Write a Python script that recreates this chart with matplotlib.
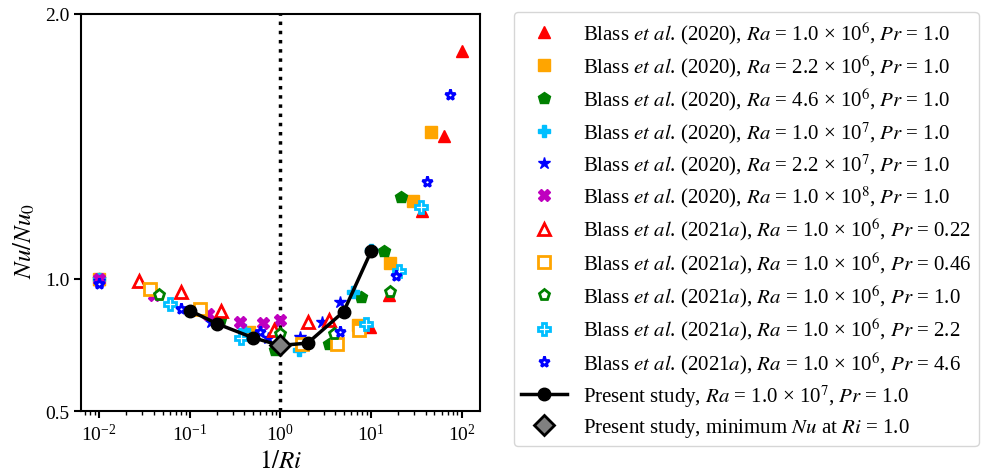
import matplotlib
matplotlib.use("Agg")
import matplotlib.pyplot as plt

plt.rcParams["font.family"] = ["Liberation Serif", "DejaVu Serif"]
plt.rcParams["mathtext.fontset"] = "stix"
plt.rcParams["font.size"] = 14

# Blass et al. (2020), Pr = 1.0 (filled markers)
x_ra1e6 = [0.01, 9.7, 16.0, 36.5, 63.5, 100.0]
y_ra1e6 = [1.0, 0.817, 0.94, 1.255, 1.54, 1.86]
x_ra22e6 = [0.01, 0.455, 7.27, 16.4, 29.1, 45.5]
y_ra22e6 = [1.0, 0.80, 0.824, 1.06, 1.295, 1.554]
x_ra46e6 = [0.01, 0.217, 0.87, 3.48, 7.8, 13.9, 21.7]
y_ra46e6 = [1.0, 0.843, 0.73, 0.755, 0.93, 1.103, 1.31]
x_ra1e7 = [0.01, 0.4, 1.6, 6.4, 10.0]
y_ra1e7 = [1.0, 0.805, 0.73, 0.95, 1.11]
x_ra22e7 = [0.01, 0.17, 0.727, 1.64, 2.9, 4.55]
y_ra22e7 = [0.99, 0.837, 0.776, 0.78, 0.836, 0.912]
x_ra1e8 = [0.01, 0.04, 0.16, 0.36, 0.64, 1.0]
y_ra1e8 = [1.0, 0.94, 0.866, 0.838, 0.834, 0.843]

# Blass et al. (2021a), Ra = 1e6 (open markers)
x_pr022 = [0.0275, 0.079, 0.223, 0.85, 2.0, 3.4]
y_pr022 = [0.99, 0.95, 0.877, 0.805, 0.836, 0.845]
x_pr046 = [0.036, 0.13, 1.74, 4.2, 7.3]
y_pr046 = [0.96, 0.887, 0.755, 0.755, 0.805]
x_pr1 = [0.046, 1.0, 3.9, 16.1]
y_pr1 = [0.94, 0.79, 0.79, 0.95]
x_pr22 = [0.061, 0.37, 8.9, 20.3, 35.3]
y_pr22 = [0.906, 0.775, 0.83, 1.03, 1.27]
x_pr46 = [0.01, 0.079, 0.6, 4.6, 18.7, 41.7, 73.8]
y_pr46 = [0.98, 0.887, 0.80, 0.80, 1.012, 1.365, 1.695]

# present study
x_present = [0.1, 0.2, 0.5, 1.0, 2.0, 5.0, 10.0]
y_present = [0.88, 0.83, 0.777, 0.748, 0.757, 0.876, 1.103]
x_min, y_min = 1.0, 0.748

fig = plt.figure(figsize=(9.94, 4.77), dpi=100)
ax = fig.add_axes([0.0815, 0.136, 0.4015, 0.8326])

ax.axvline(1.0, color="k", ls=":", lw=2.5, zorder=1)

ms = 9
filled = [
    (x_ra1e6, y_ra1e6, "^", "red", r"Blass $et\ al$. (2020), $Ra$ = 1.0 × 10$^6$, $Pr$ = 1.0"),
    (x_ra22e6, y_ra22e6, "s", "orange", r"Blass $et\ al$. (2020), $Ra$ = 2.2 × 10$^6$, $Pr$ = 1.0"),
    (x_ra46e6, y_ra46e6, "p", "green", r"Blass $et\ al$. (2020), $Ra$ = 4.6 × 10$^6$, $Pr$ = 1.0"),
    (x_ra1e7, y_ra1e7, "P", "deepskyblue", r"Blass $et\ al$. (2020), $Ra$ = 1.0 × 10$^7$, $Pr$ = 1.0"),
    (x_ra22e7, y_ra22e7, "*", "blue", r"Blass $et\ al$. (2020), $Ra$ = 2.2 × 10$^7$, $Pr$ = 1.0"),
    (x_ra1e8, y_ra1e8, "X", "m", r"Blass $et\ al$. (2020), $Ra$ = 1.0 × 10$^8$, $Pr$ = 1.0"),
]
for x, y, m, c, lab in filled:
    ax.plot(x, y, ls="none", marker=m, color=c, ms=ms, label=lab, zorder=2)

opened = [
    (x_pr022, y_pr022, "^", "red", r"Blass $et\ al$. (2021$a$), $Ra$ = 1.0 × 10$^6$, $Pr$ = 0.22"),
    (x_pr046, y_pr046, "s", "orange", r"Blass $et\ al$. (2021$a$), $Ra$ = 1.0 × 10$^6$, $Pr$ = 0.46"),
    (x_pr1, y_pr1, "p", "green", r"Blass $et\ al$. (2021$a$), $Ra$ = 1.0 × 10$^6$, $Pr$ = 1.0"),
    (x_pr22, y_pr22, "P", "deepskyblue", r"Blass $et\ al$. (2021$a$), $Ra$ = 1.0 × 10$^6$, $Pr$ = 2.2"),
    (x_pr46, y_pr46, "*", "blue", r"Blass $et\ al$. (2021$a$), $Ra$ = 1.0 × 10$^6$, $Pr$ = 4.6"),
]
for x, y, m, c, lab in opened:
    ax.plot(x, y, ls="none", marker=m, mfc="white", mec=c, mew=2, ms=ms - 1, label=lab, zorder=3)

ax.plot(x_present, y_present, "k-o", lw=2.5, ms=9,
        label=r"Present study, $Ra$ = 1.0 × 10$^7$, $Pr$ = 1.0", zorder=4)
ax.plot([x_min], [y_min], ls="none", marker="D", mfc="gray", mec="k", mew=2, ms=10,
        label=r"Present study, minimum $Nu$ at $Ri$ = 1.0", zorder=5)

ax.set_xscale("log")
ax.set_xlim(0.0063, 160)
ax.set_ylim(0.5, 2.0)
ax.set_yticks([0.5, 1.0, 2.0])
ax.set_yticklabels(["0.5", "1.0", "2.0"])
ax.set_xlabel(r"$1/Ri$", fontsize=18)
ax.set_ylabel(r"$Nu/Nu_0$", fontsize=18)
ax.yaxis.set_label_coords(-0.11, 0.43)
for s in ax.spines.values():
    s.set_linewidth(1.5)
ax.tick_params(which="major", width=1.5, length=5)
ax.tick_params(which="minor", width=1.0, length=3)

fig.legend(loc="upper left", bbox_to_anchor=(0.517, 0.973), fontsize=15,
           labelspacing=0.33, handlelength=2.2, handletextpad=0.77,
           borderpad=0.35, borderaxespad=0)

fig.savefig("out.png", dpi=100)
